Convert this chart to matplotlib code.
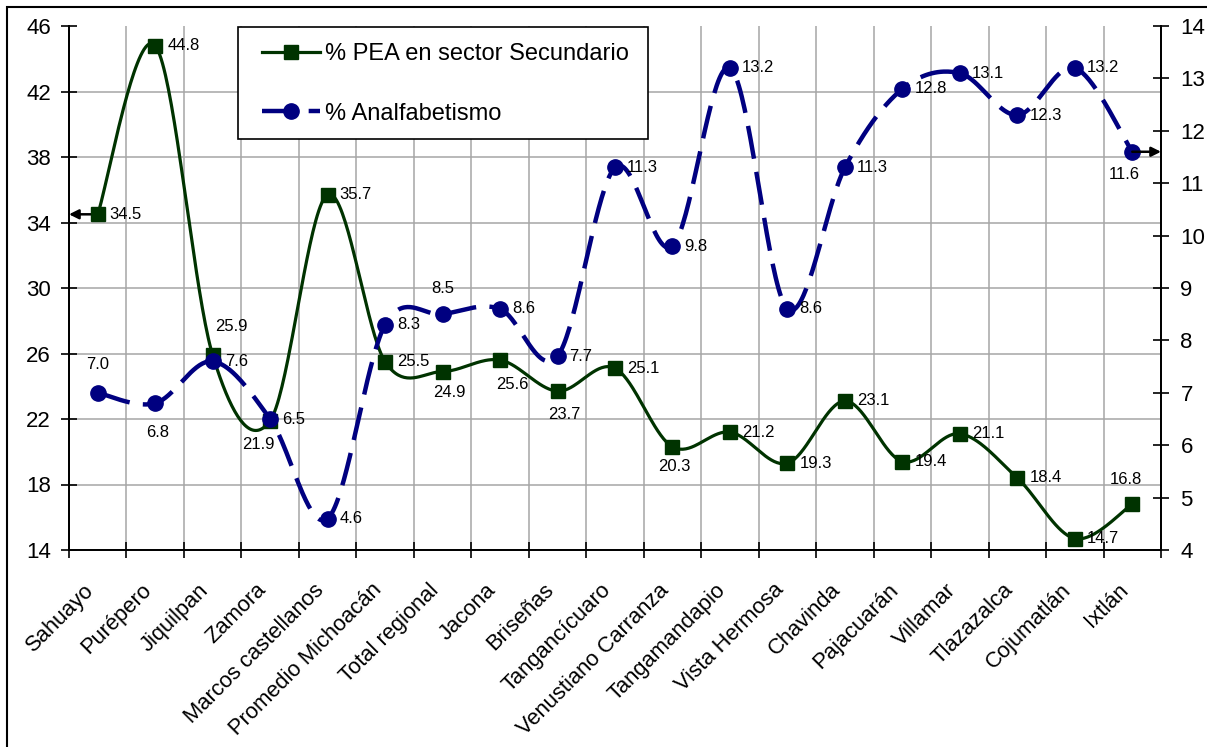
import numpy as np
import matplotlib
matplotlib.use('Agg')
import matplotlib.pyplot as plt
from matplotlib.transforms import ScaledTranslation
from matplotlib.patches import Rectangle

plt.rcParams['font.family'] = ['Liberation Sans', 'DejaVu Sans']

# Data
categories = ['Sahuayo', 'Purépero', 'Jiquilpan', 'Zamora', 'Marcos castellanos',
              'Promedio Michoacán', 'Total regional', 'Jacona', 'Briseñas',
              'Tangancícuaro', 'Venustiano Carranza', 'Tangamandapio',
              'Vista Hermosa', 'Chavinda', 'Pajacuarán', 'Villamar', 'Tlazazalca',
              'Cojumatlán', 'Ixtlán']
pea_secundario = [34.5, 44.8, 25.9, 21.9, 35.7, 25.5, 24.9, 25.6, 23.7, 25.1,
                  20.3, 21.2, 19.3, 23.1, 19.4, 21.1, 18.4, 14.7, 16.8]
analfabetismo = [7.0, 6.8, 7.6, 6.5, 4.6, 8.3, 8.5, 8.6, 7.7, 11.3,
                 9.8, 13.2, 8.6, 11.3, 12.8, 13.1, 12.3, 13.2, 11.6]
left_ticks = list(range(14, 47, 4))
right_ticks = list(range(4, 15))
series_names = ['% PEA en sector Secundario', '% Analfabetismo']

# data label offsets in pixels (dx, dy up); points not listed get label on the right
pea_offsets = {2: (19, 29), 3: (-12, -24), 6: (7, -21), 7: (12, -24),
               8: (7, -23), 10: (2, -20), 18: (-6, 25)}
analf_offsets = {0: (0, 28), 1: (2, -29), 6: (0, 26), 18: (-8, -23)}

GREEN = '#003300'
BLUE = '#000080'
PX = 0.72  # points per pixel at dpi 100


def smooth(y, n=40):
    """Catmull-Rom style bezier smoothing, like Excel's smoothed line."""
    y = np.asarray(y, float)
    x = np.arange(len(y), dtype=float)
    xp = np.concatenate([[x[0]], x, [x[-1]]])
    yp = np.concatenate([[y[0]], y, [y[-1]]])
    t = np.linspace(0, 1, n)
    xs, ys = [], []
    for i in range(len(y) - 1):
        c1x = x[i] + (x[i + 1] - xp[i]) / 6
        c2x = x[i + 1] - (xp[i + 3] - x[i]) / 6
        c1y = y[i] + (y[i + 1] - yp[i]) / 6
        c2y = y[i + 1] - (yp[i + 3] - y[i]) / 6
        b0 = (1 - t) ** 3
        b1 = 3 * (1 - t) ** 2 * t
        b2 = 3 * (1 - t) * t ** 2
        b3 = t ** 3
        xs.append(b0 * x[i] + b1 * c1x + b2 * c2x + b3 * x[i + 1])
        ys.append(b0 * y[i] + b1 * c1y + b2 * c2y + b3 * y[i + 1])
    return np.concatenate(xs), np.concatenate(ys)


def add_labels(ax, values, offsets):
    for i, v in enumerate(values):
        if i in offsets:
            dx, dy = offsets[i]
            ha = 'center'
        else:
            dx, dy = 12, 0
            ha = 'left'
        ax.annotate(f'{v:.1f}', xy=(i, v), xytext=(dx * PX, dy * PX),
                    textcoords='offset points', ha=ha, va='center',
                    fontsize=12, color='black', zorder=6)


fig = plt.figure(figsize=(12.07, 7.47), dpi=100)
ax = fig.add_axes([69 / 1207, 1 - 550 / 747, (1161 - 69) / 1207, 524 / 747])
ax2 = ax.twinx()

n = len(categories)
x = np.arange(n)

# green series (left axis)
sx, sy = smooth(pea_secundario)
ax.plot(sx, sy, color=GREEN, lw=2.3, zorder=2, solid_capstyle='round')
ax.plot(x, pea_secundario, ls='none', marker='s', ms=9.4, color=GREEN, zorder=3)
add_labels(ax, pea_secundario, pea_offsets)

# blue series (right axis)
bx, by = smooth(analfabetismo)
ln, = ax2.plot(bx, by, color=BLUE, lw=3.2, zorder=2)
ln.set_dashes((7.5, 3))
ln.set_dash_capstyle('butt')
ax2.plot(x, analfabetismo, ls='none', marker='o', ms=11, color=BLUE, zorder=3)
add_labels(ax2, analfabetismo, analf_offsets)

# axes ranges and ticks
ax.set_xlim(-0.5, n - 0.5)
ax.set_ylim(left_ticks[0], left_ticks[-1])
ax2.set_ylim(right_ticks[0], right_ticks[-1])
ax.set_xticks(np.arange(-0.5, n, 1))
ax.set_xticklabels([])
ax.set_yticks(left_ticks)
ax2.set_yticks(right_ticks)

ax.tick_params(axis='both', direction='inout', length=12, width=1.2, color='black',
               labelsize=16, pad=7)
ax2.tick_params(axis='y', direction='inout', length=12, width=1.2, color='black',
                labelsize=16, pad=8)

ax.grid(True, color='#a6a6a6', lw=1.1, zorder=0)
ax.set_axisbelow(True)
ax.yaxis.get_gridlines()[-1].set_visible(False)

for a in (ax, ax2):
    a.spines['top'].set_visible(False)
    for s in ('left', 'right', 'bottom'):
        a.spines[s].set_color('black')
        a.spines[s].set_linewidth(1.3)

# category labels, rotated like the Excel axis
trans = ax.get_xaxis_transform() + ScaledTranslation(-7 / 100, -37 / 100, fig.dpi_scale_trans)
for i, cat in enumerate(categories):
    ax.text(i, 0, cat, transform=trans, rotation=45, ha='right', va='center',
            rotation_mode='anchor', fontsize=15.8, clip_on=False)

# arrows pointing to the axis each series uses
ax.annotate('', xy=(-0.5, pea_secundario[0]), xytext=(0, pea_secundario[0]),
            arrowprops=dict(arrowstyle='-|>', color='black', lw=1.8,
                            mutation_scale=14, shrinkA=0, shrinkB=0),
            zorder=1.5, annotation_clip=False)
ax2.annotate('', xy=(n - 0.5, analfabetismo[-1]), xytext=(n - 1, analfabetismo[-1]),
             arrowprops=dict(arrowstyle='-|>', color='black', lw=1.8,
                             mutation_scale=14, shrinkA=0, shrinkB=0),
             zorder=5, annotation_clip=False)

# legend box drawn separately so the padding matches the original
box = Rectangle((0.1548, 0.7844), 0.5302 - 0.1548, 0.9981 - 0.7844,
                transform=ax2.transAxes, facecolor='white', edgecolor='black',
                lw=1.2, zorder=9)
ax2.add_patch(box)
h1 = plt.Line2D([], [], color=GREEN, lw=2.3, marker='s', ms=9.4)
h2 = plt.Line2D([], [], color=BLUE, lw=3.2, marker='o', ms=11, dashes=(7.5, 3))
leg = ax2.legend([h1, h2], series_names, loc='upper left',
                 bbox_to_anchor=(0.1767, 0.9676), frameon=False,
                 fontsize=17, handlelength=2.45, handletextpad=0.2,
                 labelspacing=1.6, borderpad=0, borderaxespad=0)
leg.set_zorder(10)

# outer chart border (only top and left fall inside the picture)
fig.patches.append(Rectangle((7 / 1207, -0.5), 2, 1.5 - 7 / 747, transform=fig.transFigure,
                             fill=False, lw=1.5, ec='black'))

fig.savefig('out.png', dpi=100)
